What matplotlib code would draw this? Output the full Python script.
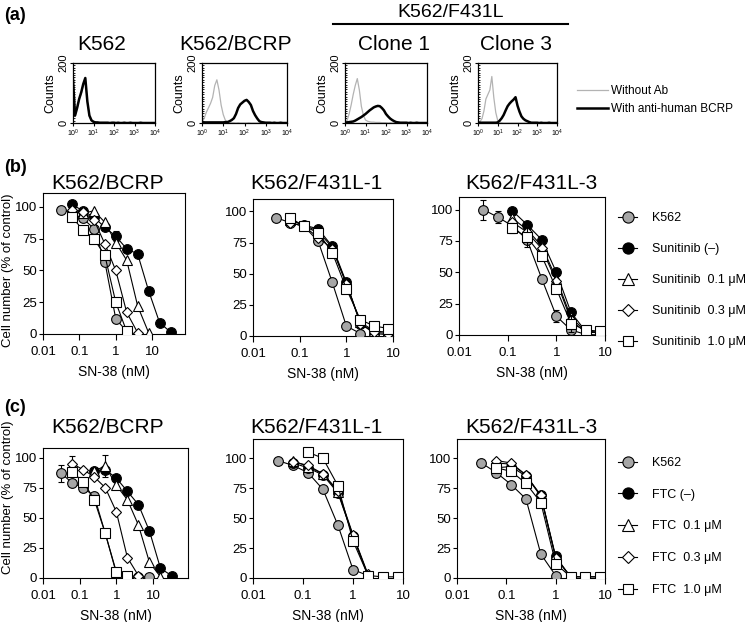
import numpy as np
import matplotlib
matplotlib.use("Agg")
import matplotlib.pyplot as plt
from matplotlib.ticker import FixedLocator, MultipleLocator, NullLocator, LogLocator

plt.rcParams['font.family'] = ['Liberation Sans', 'DejaVu Sans']

nan = np.nan
W, H = 750, 622

# ---------------- (a) flow cytometry histograms ----------------
hist_log_x = [0.0, 0.1, 0.2, 0.3, 0.4, 0.5, 0.6, 0.7, 0.8, 0.9,
              1.0, 1.1, 1.2, 1.3, 1.4, 1.5, 1.6, 1.7, 1.8, 1.9,
              2.0, 2.1, 2.2, 2.3, 2.4, 2.5, 2.6, 2.7, 2.8, 2.9,
              3.0, 3.1, 3.2, 3.3, 3.4, 3.5, 3.6, 3.7, 3.8, 3.9, 4.0]
hist_titles = ["K562", "K562/BCRP", "Clone 1", "Clone 3"]
k562_gray = [135, 22, 48, 78, 98, 125, 145, 70, 22, 8, 3, 2, 1, 1, 0, 0, 0, 0, 0, 0,
             0, 0, 0, 0, 0, 0, 0, 0, 0, 0, 0, 0, 0, 0, 0, 0, 0, 0, 0, 0, 0]
k562_black = [145, 25, 50, 80, 102, 130, 150, 72, 25, 9, 4, 2, 2, 1, 1, 1, 1, 1, 0, 1,
              1, 0, 1, 0, 0, 1, 0, 0, 1, 0, 0, 0, 0, 1, 0, 0, 0, 0, 0, 0, 0]
bcrp_gray = [3, 15, 35, 50, 65, 85, 125, 144, 110, 60, 28, 9, 4, 2, 1, 1, 0, 1, 0, 0,
             0, 0, 1, 0, 0, 0, 0, 0, 0, 0, 0, 0, 0, 0, 0, 0, 0, 0, 0, 0, 0]
bcrp_black = [2, 2, 2, 2, 2, 2, 2, 2, 2, 2, 2, 3, 3, 6, 10, 16, 30, 50, 62, 68,
              74, 77, 70, 60, 40, 26, 15, 6, 3, 2, 1, 1, 1, 0, 1, 0, 0, 1, 0, 0, 0]
clone1_gray = [2, 8, 30, 60, 95, 125, 148, 110, 55, 25, 10, 6, 4, 3, 3, 2, 2, 2, 1, 1,
               1, 0, 1, 0, 0, 0, 0, 0, 0, 0, 0, 0, 0, 0, 0, 0, 0, 0, 0, 0, 0]
clone1_black = [1, 2, 3, 4, 5, 8, 12, 16, 20, 25, 30, 36, 42, 47, 52, 55, 57, 56, 50, 42,
                30, 22, 15, 10, 6, 3, 2, 1, 1, 1, 1, 0, 1, 0, 0, 1, 0, 0, 0, 0, 0]
clone3_gray = [1, 5, 14, 40, 80, 95, 110, 155, 85, 35, 8, 3, 1, 0, 0, 0, 0, 0, 0, 0,
               0, 0, 0, 0, 0, 0, 0, 0, 0, 0, 0, 0, 0, 0, 0, 0, 0, 0, 0, 0, 0]
clone3_black = [1, 1, 1, 1, 1, 1, 1, 1, 1, 1, 2, 8, 16, 27, 42, 56, 65, 72, 78, 86,
                58, 38, 22, 14, 9, 6, 3, 1, 1, 1, 1, 0, 1, 0, 0, 0, 1, 0, 0, 0, 0]
hist_gray = [k562_gray, bcrp_gray, clone1_gray, clone3_gray]
hist_black = [k562_black, bcrp_black, clone1_black, clone3_black]

# ---------------- (b),(c) growth inhibition ----------------
conc = [0.03125, 0.0625, 0.125, 0.25, 0.5, 1, 2, 4, 8, 16, 32]
panel_titles = ["K562/BCRP", "K562/F431L-1", "K562/F431L-3"]

# (b) sunitinib
b1_k562 = [98, 95, 91, 83, 57, 12, 2, nan, nan, nan, nan]
b1_none = [nan, 102, 97, 92, 84, 77, 67, 63, 34, 9, 1.5]
b1_t01 = [nan, 97, 95, 97, 88, 72, 58, 22, 1, nan, nan]
b1_t03 = [nan, 98, 96, 90, 71, 50, 17, 1, nan, nan, nan]
b1_t10 = [nan, 92, 82, 75, 62, 25, 2, nan, nan, nan, nan]
b2_k562 = [95, 91, 88, 76, 43, 8, 2, nan, nan, nan, nan]
b2_none = [nan, 93, 89, 86, 72, 43, 10, 2, 1, nan, nan]
b2_t01 = [nan, 93, 89, 84, 71, 42, 11, 4, 3, nan, nan]
b2_t03 = [nan, 91, 88, 79, 70, 42, 10, 3, 2, nan, nan]
b2_t10 = [nan, 95, 88, 83, 67, 38, 13, 8, 6, nan, nan]
b3_k562 = [100, 94, 87, 76, 45, 15, 4, 0.5, 0, nan, nan]
b3_none = [nan, nan, 99, 88, 76, 50, 18, 3, 2, nan, nan]
b3_t01 = [nan, nan, 93, 84, 71, 45, 14, 3, 2, nan, nan]
b3_t03 = [nan, nan, 90, 82, 69, 43, 12, 2, 2, nan, nan]
b3_t10 = [nan, nan, 85, 78, 63, 37, 9, 4, 3, nan, nan]
# (c) FTC
c1_k562 = [87, 79, 75, 68, 37, 4, 2, 1, 1, nan, nan]
c1_none = [nan, nan, nan, 89, 90, 83, 72, 61, 39, 8, 2]
c1_t01 = [nan, nan, nan, 89, 93, 77, 65, 44, 13, 1, nan]
c1_t03 = [nan, 95, 90, 84, 75, 55, 17, 2, nan, nan, nan]
c1_t10 = [nan, 88, 80, 65, 37, 5, 2, nan, nan, nan, nan]
c2_k562 = [98, 94, 88, 74, 44, 7, 2, nan, nan, nan, nan]
c2_none = [nan, 96, 92, 86, 71, 35, 2, nan, nan, nan, nan]
c2_t01 = [nan, 98, 93, 87, 72, 35, 2, nan, nan, nan, nan]
c2_t03 = [nan, 97, 94, 87, 73, 36, 3, nan, nan, nan, nan]
c2_t10 = [nan, nan, 105, 100, 77, 31, 2, 1, 1, nan, nan]
c3_k562 = [96, 88, 78, 66, 20, 2, nan, nan, nan, nan, nan]
c3_none = [nan, 92, 93, 85, 69, 18, 1, 1, 1, nan, nan]
c3_t01 = [nan, 96, 95, 86, 68, 17, 1, nan, nan, nan, nan]
c3_t03 = [nan, 98, 96, 86, 69, 17, 1, nan, nan, nan, nan]
c3_t10 = [nan, 92, 89, 79, 63, 12, 1, 1, 1, nan, nan]

# error bars (SD) where visible
b1_none_err = [0, 0, 0, 0, 0, 4, 0, 0, 0, 0, 0]
b3_k562_err = [8, 5, 0, 0, 0, 5, 0, 0, 0, 0, 0]
b3_t10_err = [0, 0, 4, 8, 0, 0, 7, 0, 0, 0, 0]
c1_k562_err = [7, 0, 0, 0, 0, 0, 0, 0, 0, 0, 0]
c1_t03_err = [0, 6, 0, 0, 0, 0, 0, 0, 0, 0, 0]
c1_t01_err = [0, 0, 0, 0, 9, 0, 0, 0, 0, 0, 0]

zeros = [0] * len(conc)
b_labels = ["K562", "Sunitinib (\u2013)", "Sunitinib  0.1 \u03bcM",
            "Sunitinib  0.3 \u03bcM", "Sunitinib  1.0 \u03bcM"]
c_labels = ["K562", "FTC (\u2013)", "FTC  0.1 \u03bcM", "FTC  0.3 \u03bcM", "FTC  1.0 \u03bcM"]

b_series = [
    [(b1_k562, zeros), (b1_none, b1_none_err), (b1_t01, zeros), (b1_t03, zeros), (b1_t10, zeros)],
    [(b2_k562, zeros), (b2_none, zeros), (b2_t01, zeros), (b2_t03, zeros), (b2_t10, zeros)],
    [(b3_k562, b3_k562_err), (b3_none, zeros), (b3_t01, zeros), (b3_t03, zeros), (b3_t10, b3_t10_err)],
]
c_series = [
    [(c1_k562, c1_k562_err), (c1_none, zeros), (c1_t01, c1_t01_err), (c1_t03, c1_t03_err), (c1_t10, zeros)],
    [(c2_k562, zeros), (c2_none, zeros), (c2_t01, zeros), (c2_t03, zeros), (c2_t10, zeros)],
    [(c3_k562, zeros), (c3_none, zeros), (c3_t01, zeros), (c3_t03, zeros), (c3_t10, zeros)],
]

styles = [
    dict(marker='o', mfc='#a6a6a6', ms=7),
    dict(marker='o', mfc='black', ms=7),
    dict(marker='^', mfc='white', ms=7),
    dict(marker='D', mfc='white', ms=5.5),
    dict(marker='s', mfc='white', ms=6.5),
]

fig = plt.figure(figsize=(W / 100, H / 100), dpi=100)


def rect(l, t, r, b):
    return [l / W, 1 - b / H, (r - l) / W, (b - t) / H]


def fx(x):
    return x / W


def fy(y):
    return 1 - y / H


# ---- (a)
hist_boxes = [(73, 63, 155, 123), (202, 63, 287, 123), (345, 63, 427, 123), (478, 63, 557, 123)]
hist_title_x = [102, 236, 394, 516]
hx = 10 ** np.array(hist_log_x)
hist_handles = None
for i, box in enumerate(hist_boxes):
    ax = fig.add_axes(rect(*box))
    lg, = ax.plot(hx, hist_gray[i], color='#b3b3b3', lw=0.9)
    lb, = ax.plot(hx, hist_black[i], color='black', lw=1.8)
    hist_handles = [lg, lb]
    ax.set_xscale('log')
    ax.set_xlim(1, 1e4)
    ax.set_ylim(0, 200)
    ax.set_yticks([0, 200])
    ax.yaxis.set_minor_locator(MultipleLocator(8))
    ax.xaxis.set_major_locator(FixedLocator([1, 10, 100, 1000, 10000]))
    ax.xaxis.set_minor_locator(LogLocator(base=10, subs=np.arange(2, 10)))
    ax.tick_params(axis='x', which='major', labelsize=5, length=2.5, pad=1)
    ax.tick_params(axis='x', which='minor', length=1.5)
    ax.tick_params(axis='y', which='major', labelsize=8, length=2.5, pad=1, labelrotation=90)
    ax.tick_params(axis='y', which='minor', length=1.5, direction='in')
    for lab in ax.get_yticklabels():
        lab.set_va('center')
    ax.set_ylabel("Counts", fontsize=9, labelpad=1)
    for s in ax.spines.values():
        s.set_linewidth(0.9)
    fig.text(fx(hist_title_x[i]), fy(50), hist_titles[i], fontsize=15,
             ha='center', va='baseline')

fig.text(fx(451), fy(17), "K562/F431L", fontsize=14, ha='center', va='baseline')
fig.add_artist(plt.Line2D([fx(333), fx(568)], [fy(24), fy(24)], color='black', lw=1.5))
fig.legend(hist_handles, ["Without Ab", "With anti-human BCRP"], loc='upper left',
           bbox_to_anchor=(fx(577), fy(85)), frameon=False, fontsize=8.5,
           handlelength=2.6, handletextpad=0.3, labelspacing=0.52,
           borderaxespad=0, borderpad=0)

# ---- (b),(c)
b_boxes = [(43, 193, 185, 334), (253, 199, 393, 336), (459, 197, 605, 335)]
b_xmax = [80, 10, 10]
b_ylim = [111, 110, 110]
c_boxes = [(43, 448, 188, 578), (253, 439, 403, 578), (457, 439, 605, 578)]
c_xmax = [90, 10, 10]
c_ylim = [108, 116, 116]
title_x = [108, 316, 531]
panel_titles_iter = panel_titles * 2


def draw_panel(box, xmax, ytop, series, tx, ty):
    ax = fig.add_axes(rect(*box))
    handles = []
    for k, ((vals, err), st) in enumerate(zip(series, styles)):
        v = np.array(vals, dtype=float)
        e = np.array(err, dtype=float)
        m = e > 0
        if m.any():
            ax.errorbar(np.array(conc)[m], v[m], yerr=e[m], fmt='none', ecolor='black',
                        elinewidth=0.8, capsize=2.5, capthick=0.8, zorder=2 + k)
        h, = ax.plot(conc, v, color='black', lw=0.8, mec='black', mew=0.8,
                     zorder=3 + k, **st)
        handles.append(h)
    ax.set_xscale('log')
    ax.set_xlim(0.01, xmax)
    ax.set_ylim(0, ytop)
    ax.xaxis.set_major_locator(FixedLocator([0.01, 0.1, 1, 10]))
    ax.xaxis.set_minor_locator(NullLocator())
    ax.set_xticklabels(['0.01', '0.1', '1', '10'])
    ax.set_yticks([0, 25, 50, 75, 100])
    ax.tick_params(axis='x', labelsize=9.5, length=4, width=0.8, pad=4.8)
    ax.tick_params(axis='y', labelsize=9.5, length=3, width=0.8, pad=1.5)
    for s in ax.spines.values():
        s.set_linewidth(0.8)
    ax.set_xlabel("SN-38 (nM)", fontsize=10, labelpad=5)
    fig.text(fx(tx), fy(ty), panel_titles_iter.pop(0), fontsize=15, ha='center', va='baseline')
    return ax, handles


for i in range(3):
    ax, hb = draw_panel(b_boxes[i], b_xmax[i], b_ylim[i], b_series[i], title_x[i], 189)
for i in range(3):
    ax, hc = draw_panel(c_boxes[i], c_xmax[i], c_ylim[i], c_series[i], title_x[i], 433)

fig.text(fx(8), fy(270), "Cell number (% of control)", fontsize=9.5, rotation=90,
         ha='center', va='center')
fig.text(fx(8), fy(497), "Cell number (% of control)", fontsize=9.5, rotation=90,
         ha='center', va='center')

legkw = dict(loc='upper left', frameon=False, fontsize=9, handlelength=1.55,
             handletextpad=1.2, borderaxespad=0, borderpad=0, markerscale=1.15)
fig.legend(hb, b_labels, bbox_to_anchor=(fx(618), fy(212)), labelspacing=1.52, **legkw)
fig.legend(hc, c_labels, bbox_to_anchor=(fx(618), fy(457)), labelspacing=1.58, **legkw)

# panel letters
fig.text(fx(4), fy(16), "(a)", fontsize=13, fontweight='bold', va='center', ha='left')
fig.text(fx(4), fy(168), "(b)", fontsize=13, fontweight='bold', va='center', ha='left')
fig.text(fx(4), fy(408), "(c)", fontsize=13, fontweight='bold', va='center', ha='left')

fig.savefig("out.png", dpi=100)
